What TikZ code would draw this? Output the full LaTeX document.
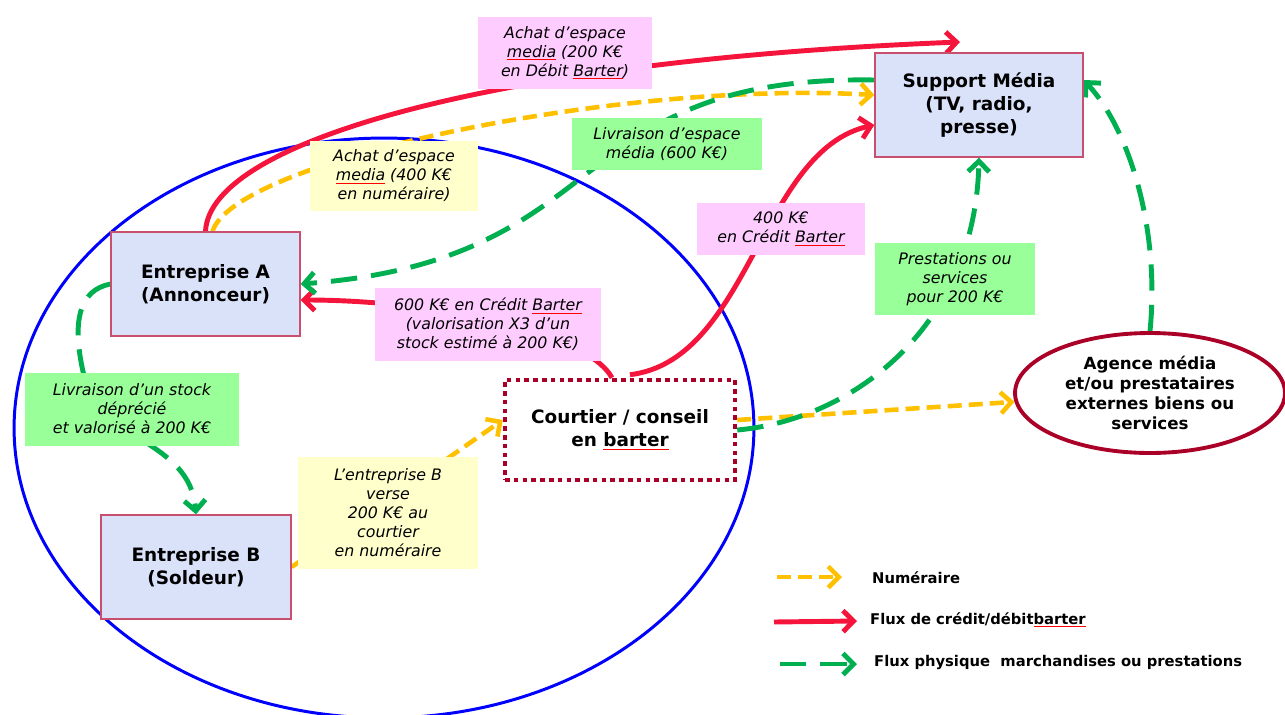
\documentclass[tikz,border=0pt]{standalone}
\usepackage{fontspec}
\setmainfont{DejaVu Sans}
\usepackage{xcolor}
\usepackage{tikz}
\usetikzlibrary{arrows.meta,positioning,calc,shapes.geometric,backgrounds}

\definecolor{cashcol}{RGB}{255,192,0}
\definecolor{creditcol}{RGB}{245,20,60}
\definecolor{goodscol}{RGB}{0,176,80}
\definecolor{boxfill}{RGB}{218,226,250}
\definecolor{boxline}{RGB}{200,80,110}
\definecolor{brokercol}{RGB}{170,0,40}
\definecolor{pinkfill}{RGB}{255,204,255}
\definecolor{yelfill}{RGB}{255,255,204}
\definecolor{grnfill}{RGB}{153,255,153}

\tikzstyle{cash}=[draw=cashcol, line width=2.6pt, dash pattern=on 8pt off 4pt, -{Straight Barb[length=6pt,width=12pt]}]
\tikzstyle{credit}=[draw=creditcol, line width=2.8pt, -{Straight Barb[length=6pt,width=12pt]}]
\tikzstyle{goods}=[draw=goodscol, line width=2.8pt, dash pattern=on 15pt off 8pt, -{Straight Barb[length=6pt,width=12pt]}]

\newcommand{\spell}[1]{{\color{red}\underline{\color{black}#1}}}

\begin{document}
\begin{tikzpicture}[x=0.02cm, y=-0.02cm,
        box/.style={draw=boxline, line width=0.8pt, fill=boxfill, minimum width=3.8cm, minimum height=2.08cm, align=center, font=\bfseries\fontsize{10.5}{13}\selectfont},
        tag/.style={inner sep=2pt, align=center, font=\itshape\fontsize{9}{10.8}\selectfont},
        legend/.style={anchor=west, font=\bfseries\fontsize{8.4}{10}\selectfont}
    ]
        \useasboundingbox (0,0) rectangle (1285,714);

        % Define Nodes
        \node (support) [box, minimum width=4.16cm] at (979,105) {Support Média\\(TV, radio,\\presse)};
        \node (entA) [box, minimum width=3.78cm] at (205.5,284) {Entreprise A\\(Annonceur)};
        \node (entB) [box] at (196,567) {Entreprise B\\(Soldeur)};
        \node (courtier) [box, fill=white, draw=brokercol, line width=2.6pt, dash pattern=on 2.6pt off 2.4pt, minimum width=4.6cm, minimum height=2cm] at (620,430) {Courtier / conseil\\en \spell{barter}};
        \node (agence) [ellipse, draw=brokercol, line width=2.2pt, minimum width=5.4cm, minimum height=2.4cm, inner sep=0pt, align=center, font=\bfseries\fontsize{9.5}{11.5}\selectfont] at (1150,393) {Agence média\\et/ou prestataires\\externes biens ou\\services};

        % Labels on the flows
        \node (achat200) [tag, fill=pinkfill, minimum width=3.48cm, minimum height=1.46cm] at (565,53) {Achat d’espace\\\spell{media} (200 K€\\en Débit \spell{Barter})};
        \node (achat400) [tag, fill=yelfill, minimum width=3.36cm, minimum height=1.42cm] at (394,176) {Achat d’espace\\\spell{media} (400 K€\\en numéraire)};
        \node (livespace) [tag, fill=grnfill, minimum width=3.8cm, minimum height=1.04cm] at (667,144) {Livraison d’espace\\média (600 K€)};
        \node (credit400) [tag, fill=pinkfill, minimum width=3.38cm, minimum height=1.04cm] at (781,229) {400 K€\\en Crédit \spell{Barter}};
        \node (presta) [tag, fill=grnfill, minimum width=3.22cm, minimum height=1.46cm] at (955,279) {Prestations ou\\services\\pour 200 K€};
        \node (credit600) [tag, fill=pinkfill, minimum width=4.54cm, minimum height=1.46cm] at (488,324) {600 K€ en Crédit \spell{Barter}\\(valorisation X3 d’un\\stock estimé à 200 K€)};
        \node (livstock) [tag, fill=grnfill, minimum width=4.3cm, minimum height=1.46cm] at (132,409) {Livraison d’un stock\\déprécié\\et valorisé à 200 K€};
        \node (verse) [tag, fill=yelfill, minimum width=3.6cm, minimum height=2.26cm] at (388,513) {L’entreprise B\\verse\\200 K€ au\\courtier\\en numéraire};

        % Legend
        \node (legcash) [legend] at (866,578) {Numéraire};
        \node (legcredit) [legend] at (864,620) {Flux de crédit/débit\spell{barter}};
        \node (leggoods) [legend] at (868,662) {Flux physique\ \ marchandises ou prestations};
        \coordinate (cashA) at (777,577);
        \coordinate (cashB) at (842,577);
        \coordinate (creditA) at (774,622);
        \coordinate (creditB) at (857,621);
        \coordinate (goodsA) at (780,664);
        \coordinate (goodsB) at (857,664);
        \coordinate (credtip) at (960,42);

        \begin{pgfonlayer}{background}
            \draw[blue, line width=1.7pt] (384,428) ellipse [x radius=7.4cm, y radius=5.8cm];

            % Draw Arrows
            \draw[credit] (entA.north) .. controls (210,140) and (500,60) .. (credtip);
            \draw[credit] ($(courtier.north)+(10,-3)$) .. controls (750,360) and (760,150) .. ($(support.west)+(0,20)$);
            \draw[credit] ($(courtier.north)+(-8,0)$) .. controls (585,330) and (430,300) .. ($(entA.east)+(0,16)$);

            \draw[cash] ($(entA.north)+(7,0)$) .. controls (235,160) and (620,80) .. ($(support.west)+(0,-10)$);
            \draw[cash] ($(courtier.east)+(0,-10)$) -- (agence);
            \draw[cash] (entB.east) -- ($(courtier.west)+(0,-10)$);

            \draw[goods] ($(support.west)+(0,-25)$) .. controls (560,75) and (620,260) .. (entA.east);
            \draw[goods] (courtier.east) .. controls (850,420) and (975,330) .. (support.south);
            \draw[goods] (agence.north) .. controls (1160,230) and (1130,130) .. ($(support.east)+(0,-25)$);
            \draw[goods] (entA.west) .. controls (80,290) and (70,320) .. (85,380)
                .. controls (100,440) and (190,440) .. (entB.north);

            % legend arrows
            \draw[cash] (cashA) -- (cashB);
            \draw[credit] (creditA) -- (creditB);
            \draw[goods] (goodsA) -- (goodsB);
        \end{pgfonlayer}
\end{tikzpicture}
\end{document}
